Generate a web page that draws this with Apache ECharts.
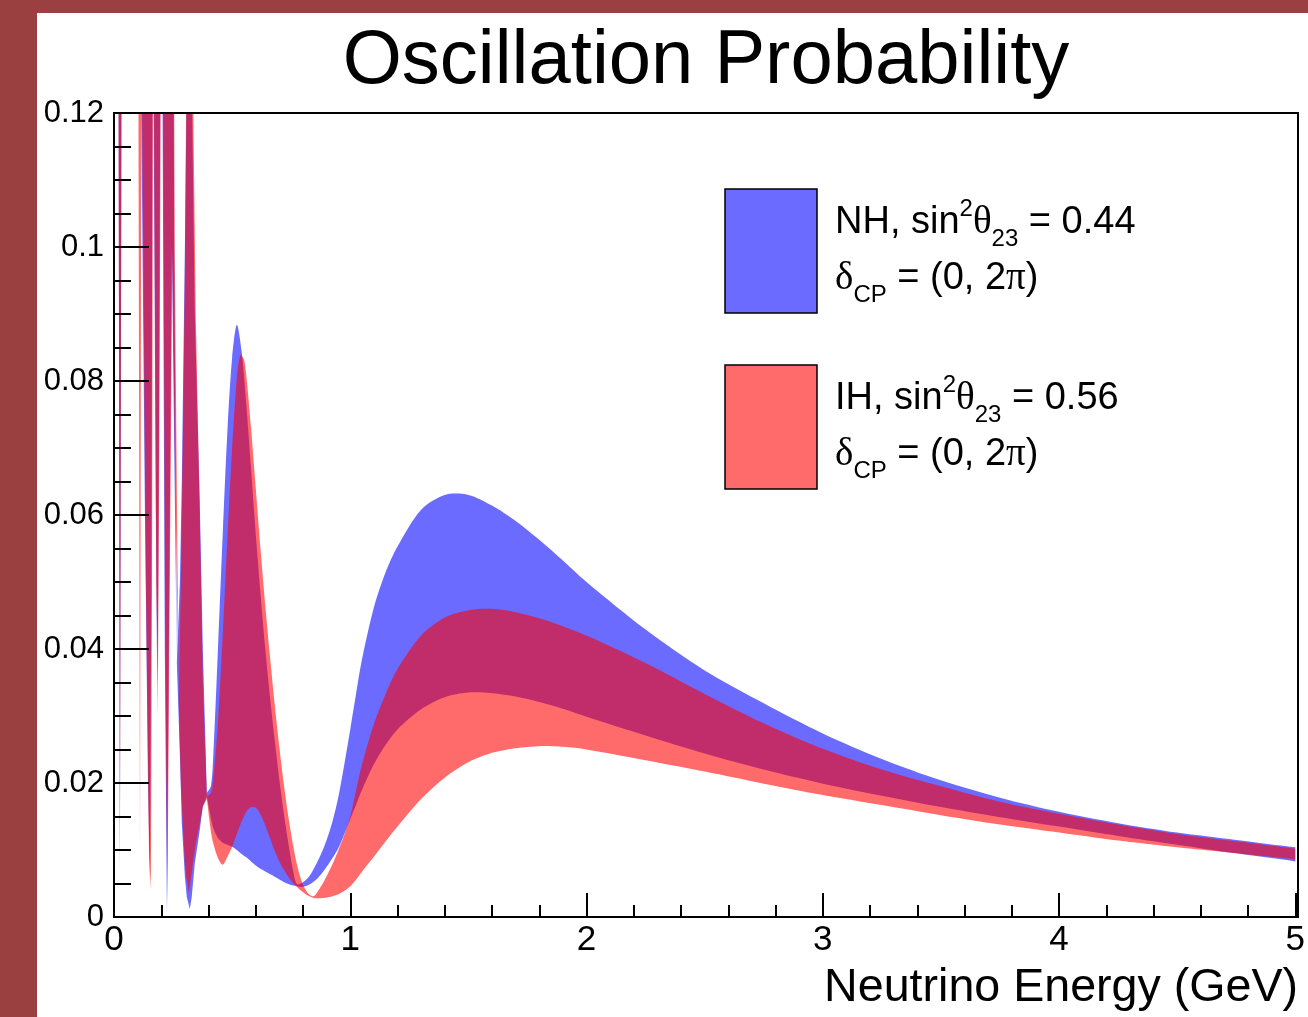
<!DOCTYPE html>
<html lang="en">
<head>
<meta charset="UTF-8">
<title>Oscillation Probability</title>
<script src="https://cdn.jsdelivr.net/npm/echarts@6/dist/echarts.min.js"></script>
<style>
  html, body { margin: 0; padding: 0; background: #fff; }
  #main { width: 1308px; height: 1017px; }
</style>
</head>
<body>
<div id="main"></div>
<script>
// band edges: energy (GeV), lower / upper probability.
// values above 0.12 run off the top of the frame and get clipped.
// below pinchE the bands are spiky (straight segments), above it smooth.
var pinchE = 0.393;

var nhE = [0.000, 0.019, 0.025, 0.032, 0.114, 0.131, 0.144, 0.152, 0.158, 0.163,
  0.167, 0.177, 0.184, 0.190, 0.196, 0.205, 0.215, 0.224, 0.232, 0.245,
  0.255, 0.266, 0.279, 0.287, 0.300, 0.308, 0.321, 0.329, 0.342, 0.363,
  0.376, 0.393,
  0.41, 0.42, 0.44, 0.46, 0.48, 0.50, 0.52, 0.54, 0.56, 0.58,
  0.60, 0.62, 0.64, 0.66, 0.68, 0.70, 0.72, 0.74, 0.76, 0.775,
  0.80, 0.825, 0.85, 0.875, 0.90, 0.925, 0.95, 0.975, 1.00, 1.025,
  1.05, 1.10, 1.15, 1.20, 1.30, 1.40, 1.50, 1.60, 1.70, 1.80,
  1.90, 2.00, 2.25, 2.50, 2.75, 3.00, 3.25, 3.50, 3.75, 4.00,
  4.25, 4.50, 4.75, 5.00];
var nhLo = [0.130, 0.130, 0.007, 0.130, 0.125, 0.060, 0.020, 0.005, 0.050, 0.125,
  0.125, 0.060, 0.030, 0.070, 0.125, 0.125, 0.040, 0.0006, 0.040, 0.100,
  0.070, 0.038, 0.024, 0.014, 0.006, 0.003, 0.0012, 0.003, 0.008, 0.013,
  0.0165, 0.018,
  0.0148, 0.0133, 0.0118, 0.0111, 0.0108, 0.0105, 0.0100, 0.0094, 0.0089, 0.0083,
  0.0077, 0.0072, 0.0068, 0.0064, 0.0060, 0.0056, 0.0052, 0.0049, 0.0047, 0.0046,
  0.0045, 0.0048, 0.0054, 0.0063, 0.0075, 0.0088, 0.0103, 0.0124, 0.0146, 0.0168,
  0.0190, 0.0228, 0.0257, 0.0280, 0.0310, 0.0328, 0.0335, 0.0334, 0.0329, 0.0321,
  0.0311, 0.0299, 0.0271, 0.0244, 0.0220, 0.0199, 0.0181, 0.0164, 0.0149, 0.0135,
  0.0121, 0.0108, 0.0095, 0.0083];
var nhHi = [0.200, 0.200, 0.200, 0.200, 0.200, 0.200, 0.200, 0.200, 0.200, 0.200,
  0.200, 0.200, 0.200, 0.200, 0.200, 0.200, 0.200, 0.200, 0.200, 0.200,
  0.100, 0.038, 0.050, 0.065, 0.100, 0.125, 0.140, 0.125, 0.090, 0.062,
  0.040, 0.0185,
  0.0195, 0.0240, 0.0400, 0.0570, 0.0725, 0.0835, 0.0884, 0.0845, 0.0765, 0.0670,
  0.0572, 0.0483, 0.0402, 0.0330, 0.0265, 0.0205, 0.0152, 0.0106, 0.0066, 0.0049,
  0.0052, 0.0060, 0.0075, 0.0093, 0.0115, 0.0143, 0.0180, 0.0228, 0.0280, 0.0334,
  0.0385, 0.0462, 0.0515, 0.0553, 0.0608, 0.0630, 0.0630, 0.0614, 0.0591, 0.0563,
  0.0532, 0.0500, 0.0429, 0.0368, 0.0319, 0.0274, 0.0236, 0.0204, 0.0178, 0.0157,
  0.0140, 0.0126, 0.0115, 0.0104];

var ihE = [0.000, 0.019, 0.025, 0.032, 0.103, 0.110, 0.116, 0.118, 0.135, 0.148,
  0.156, 0.161, 0.165, 0.169, 0.179, 0.186, 0.192, 0.198, 0.207, 0.217,
  0.226, 0.234, 0.247, 0.257, 0.274, 0.283, 0.291, 0.300, 0.306, 0.317,
  0.334, 0.346, 0.363, 0.376, 0.393,
  0.41, 0.42, 0.44, 0.46, 0.48, 0.50, 0.52, 0.535, 0.55, 0.56,
  0.58, 0.60, 0.62, 0.64, 0.66, 0.68, 0.70, 0.72, 0.74, 0.76,
  0.78, 0.80, 0.82, 0.84, 0.85, 0.875, 0.90, 0.925, 0.95, 0.975,
  1.00, 1.025, 1.05, 1.10, 1.15, 1.20, 1.30, 1.40, 1.50, 1.60,
  1.70, 1.80, 1.90, 2.00, 2.25, 2.50, 2.75, 3.00, 3.25, 3.50,
  3.75, 4.00, 4.25, 4.50, 4.75, 5.00];
var ihLo = [0.130, 0.130, 0.008, 0.130, 0.130, 0.010, 0.130, 0.125, 0.050, 0.010,
  0.004, 0.050, 0.125, 0.125, 0.050, 0.035, 0.070, 0.125, 0.125, 0.040,
  0.001, 0.040, 0.100, 0.070, 0.032, 0.020, 0.014, 0.008, 0.006, 0.0035,
  0.008, 0.011, 0.014, 0.0165, 0.0176,
  0.0128, 0.0110, 0.0088, 0.0078, 0.0090, 0.0105, 0.0124, 0.0138, 0.0150, 0.0157,
  0.0164, 0.0163, 0.0153, 0.0137, 0.0118, 0.0099, 0.0083, 0.0070, 0.0059, 0.0050,
  0.0043, 0.0037, 0.0032, 0.0029, 0.0028, 0.0028, 0.0029, 0.0031, 0.0034, 0.0039,
  0.0046, 0.0056, 0.0068, 0.0090, 0.0113, 0.0135, 0.0176, 0.0208, 0.0231, 0.0245,
  0.0252, 0.0255, 0.0254, 0.0250, 0.0234, 0.0217, 0.0199, 0.0182, 0.0167, 0.0152,
  0.0138, 0.0126, 0.0114, 0.0104, 0.0095, 0.0086];
var ihHi = [0.200, 0.200, 0.200, 0.200, 0.200, 0.200, 0.200, 0.200, 0.200, 0.200,
  0.200, 0.200, 0.200, 0.200, 0.200, 0.200, 0.200, 0.200, 0.200, 0.200,
  0.200, 0.200, 0.200, 0.100, 0.032, 0.050, 0.070, 0.095, 0.125, 0.140,
  0.125, 0.090, 0.060, 0.035, 0.018,
  0.0185, 0.0205, 0.0290, 0.0420, 0.0565, 0.0700, 0.0805, 0.0839, 0.0832, 0.0808,
  0.0730, 0.0640, 0.0550, 0.0466, 0.0390, 0.0318, 0.0253, 0.0195, 0.0145, 0.0103,
  0.0070, 0.0048, 0.0036, 0.0031, 0.0032, 0.0045, 0.0061, 0.0079, 0.0100, 0.0123,
  0.0150, 0.0190, 0.0228, 0.0288, 0.0333, 0.0370, 0.0420, 0.0447, 0.0458, 0.0460,
  0.0455, 0.0446, 0.0434, 0.0420, 0.0379, 0.0333, 0.0289, 0.0251, 0.0220, 0.0195,
  0.0172, 0.0154, 0.0138, 0.0124, 0.0113, 0.0102];

var legendLabels = [
  ['{t|NH, sin}{sup|2}{g|θ}{sub|23}{t| = 0.44}', '{g|δ}{sub|CP}{t| = (0, 2}{g|π}{t|)}'],
  ['{t|IH, sin}{sup|2}{g|θ}{sub|23}{t| = 0.56}', '{g|δ}{sub|CP}{t| = (0, 2}{g|π}{t|)}']
];

var FONT = 'Liberation Sans, Arial, Helvetica, sans-serif';
var chart = echarts.init(document.getElementById('main'));

// band as polygons: upper edge forward, lower edge back
function band(E, lo, hi, color) {
  var k = E.indexOf(pinchE);
  function poly(api, from, to, smooth) {
    var up = [], down = [];
    for (var i = from; i <= to; i++) up.push(api.coord([E[i], hi[i]]));
    for (var j = to; j >= from; j--) down.push(api.coord([E[j], lo[j]]));
    if (smooth) {
      // doubled end points keep the corners from bulging
      up.unshift(up[0]); up.push(up[up.length - 1]);
      down.unshift(down[0]); down.push(down[down.length - 1]);
    }
    return { type: 'polygon', shape: { points: up.concat(down), smooth: smooth },
      style: { fill: color } };
  }
  return function (params, api) {
    if (params.dataIndex !== 0) return null;
    return { type: 'group', children: [
      poly(api, 0, k, 0),
      poly(api, k, E.length - 1, 0.3)
    ] };
  };
}

var rich = {
  t: { fontFamily: FONT, fontSize: 38, lineHeight: 56, color: '#000' },
  g: { fontFamily: 'Liberation Serif, serif', fontSize: 39, lineHeight: 56, color: '#000' },
  sup: { fontFamily: FONT, fontSize: 24, lineHeight: 24, padding: [0, 0, 28, 0], color: '#000' },
  sub: { fontFamily: FONT, fontSize: 24, lineHeight: 23, padding: [33, 0, 0, 0], color: '#000' }
};

function legendEntry(top, fill, lines) {
  return [
    { type: 'rect', z: 50, shape: { x: 725, y: top, width: 92, height: 124 },
      style: { fill: fill, stroke: '#000', lineWidth: 1.5 } },
    { type: 'text', z: 50, x: 835, y: top + 6,
      style: { text: lines.join('\n'), rich: rich, verticalAlign: 'top', align: 'left' } }
  ];
}

var option = {
  animation: false,
  backgroundColor: '#fff',
  grid: { left: 114, top: 113, width: 1184, height: 804 },
  xAxis: {
    type: 'value', min: 0, max: 5, interval: 1, z: 10,
    axisLine: { show: true, onZero: false, lineStyle: { color: '#000', width: 2 } },
    axisTick: { show: true, inside: true, length: 24, lineStyle: { color: '#000', width: 2 } },
    minorTick: { show: true, splitNumber: 5, length: 12, lineStyle: { color: '#000', width: 2 } },
    splitLine: { show: false },
    axisLabel: { color: '#000', fontSize: 35, fontFamily: FONT, margin: 6,
      showMinLabel: true, showMaxLabel: true }
  },
  yAxis: {
    type: 'value', min: 0, max: 0.12, interval: 0.02, z: 10,
    axisLine: { show: true, onZero: false, lineStyle: { color: '#000', width: 2 } },
    axisTick: { show: true, inside: true, length: 35, lineStyle: { color: '#000', width: 2 } },
    minorTick: { show: true, splitNumber: 4, length: 17, lineStyle: { color: '#000', width: 2 } },
    splitLine: { show: false },
    axisLabel: { color: '#000', fontSize: 31, fontFamily: FONT, margin: 10,
      showMinLabel: true, showMaxLabel: true }
  },
  series: [
    { name: 'NH', type: 'custom', clip: true, renderItem: band(nhE, nhLo, nhHi, 'rgba(0,0,255,0.58)'),
      data: nhE.map(function (e, i) { return [e, nhLo[i], nhHi[i]]; }), encode: { x: 0, y: 1 } },
    { name: 'IH', type: 'custom', clip: true, renderItem: band(ihE, ihLo, ihHi, 'rgba(255,0,0,0.58)'),
      data: ihE.map(function (e, i) { return [e, ihLo[i], ihHi[i]]; }), encode: { x: 0, y: 1 } }
  ],
  graphic: [
    // slide border
    { type: 'rect', z: 0, shape: { x: 0, y: 0, width: 37, height: 1017 }, style: { fill: '#9b4040' } },
    { type: 'rect', z: 0, shape: { x: 0, y: 0, width: 1308, height: 13 }, style: { fill: '#9b4040' } },
    // frame
    { type: 'rect', z: 60, shape: { x: 114, y: 113, width: 1184, height: 804 },
      style: { fill: null, stroke: '#000', lineWidth: 2 } },
    { type: 'text', z: 50, x: 706, y: 62,
      style: { text: 'Oscillation Probability', fontFamily: FONT, fontSize: 76, fill: '#000',
        align: 'center', verticalAlign: 'middle' } },
    { type: 'text', z: 50, x: 1298, y: 988,
      style: { text: 'Neutrino Energy (GeV)', fontFamily: FONT, fontSize: 46.6, fill: '#000',
        align: 'right', verticalAlign: 'middle' } }
  ].concat(legendEntry(189, '#6b6bff', legendLabels[0]))
   .concat(legendEntry(365, '#ff6b6b', legendLabels[1]))
};

chart.setOption(option);
</script>
</body>
</html>
